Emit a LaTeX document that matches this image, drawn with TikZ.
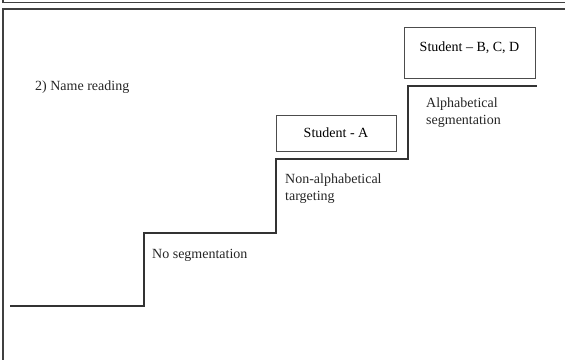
\documentclass[tikz,border=0pt]{standalone}
\usepackage{fontspec}
\setmainfont{Liberation Serif}
\begin{document}
\begin{tikzpicture}[x=1pt,y=-1pt,
  stair/.style={draw=black!80,line width=1.6pt,line join=miter},
  frame/.style={draw=black!75,line width=1.3pt},
  level/.style={draw=black!70,line width=0.9pt,rectangle,inner sep=0pt},
  lbl/.style={font=\fontsize{14}{17}\selectfont,anchor=base west,align=left,inner sep=0pt,text=black!85}]
\useasboundingbox (0,0) rectangle (565,359);
% lower edge of the panel above and the outline of this panel
\draw[frame] (3,0) -- (3,2.5) -- (566,2.5);
\draw[frame] (3,360) -- (3,9) -- (566,9);
% the staircase
\draw[stair] (10,306) -- (144,306) -- (144,233) -- (276,233) -- (276,159)
  -- (408,159) -- (408,86) -- (537,86);
% title and step labels (base anchor sits on the last line)
\node[lbl] (title) at (35,90) {2) Name reading};
\node[lbl] (s1) at (152,258) {No segmentation};
\node[lbl] (s2) at (285,200) {Non-alphabetical\\targeting};
\node[lbl] (s3) at (426,124) {Alphabetical\\segmentation};
% students placed on the steps
\node[level,font=\fontsize{14}{17}\selectfont,minimum width=120pt,
  text height=22pt,text depth=14pt] (a) at (336,133) {Student - A};
\node[level,font=\fontsize{14}{17}\selectfont,minimum width=131pt,
  text height=24pt,text depth=27pt] (bcd) at (469.5,53) {Student -- B, C, D};
\end{tikzpicture}
\end{document}
